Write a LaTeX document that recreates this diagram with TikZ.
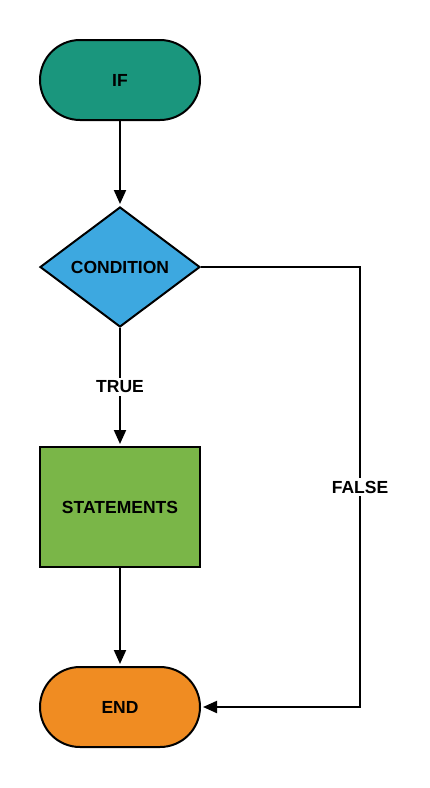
\documentclass[tikz,border=0pt]{standalone}
\usepackage{fontspec}
\setmainfont{Liberation Sans}
\usetikzlibrary{arrows.meta,shapes.geometric}
\definecolor{cif}{HTML}{1A967D}
\definecolor{ccond}{HTML}{3DA8E0}
\definecolor{cstat}{HTML}{7AB648}
\definecolor{cend}{HTML}{F08C22}
\tikzset{
  lbl/.style={font=\fontsize{17.5}{20}\selectfont\bfseries},
  term/.style={draw=black,line width=2pt,rounded corners=40pt,minimum width=160pt,minimum height=80pt,lbl},
  decis/.style={draw=black,line width=2pt,diamond,aspect=1.333,minimum width=160pt,minimum height=120pt,inner sep=0pt,lbl},
  proc/.style={draw=black,line width=2pt,minimum width=160pt,minimum height=120pt,lbl},
  conn/.style={line width=2pt,-{Triangle[length=14pt,width=12pt]},shorten >=2pt},
  edgelbl/.style={fill=white,inner sep=3pt,lbl}
}
\begin{document}
\begin{tikzpicture}[x=1pt,y=-1pt]
\useasboundingbox (0,0) rectangle (429,788);
\node[term,fill=cif] (if) at (120,80) {IF};
\node[decis,fill=ccond] (cond) at (120,267) {CONDITION};
\node[proc,fill=cstat] (stat) at (120,507) {STATEMENTS};
\node[term,fill=cend] (end) at (120,707) {END};
\coordinate (c1) at (360,267);
\coordinate (c2) at (360,707);
\draw[conn] (if) -- (cond);
\draw[conn] (cond) -- node[edgelbl,pos=0.5] {TRUE} (stat);
\draw[conn] (stat) -- (end);
\draw[conn] (cond.east) -- (c1) -- node[edgelbl,pos=0.5] {FALSE} (c2) -- (end.east);
\end{tikzpicture}
\end{document}
